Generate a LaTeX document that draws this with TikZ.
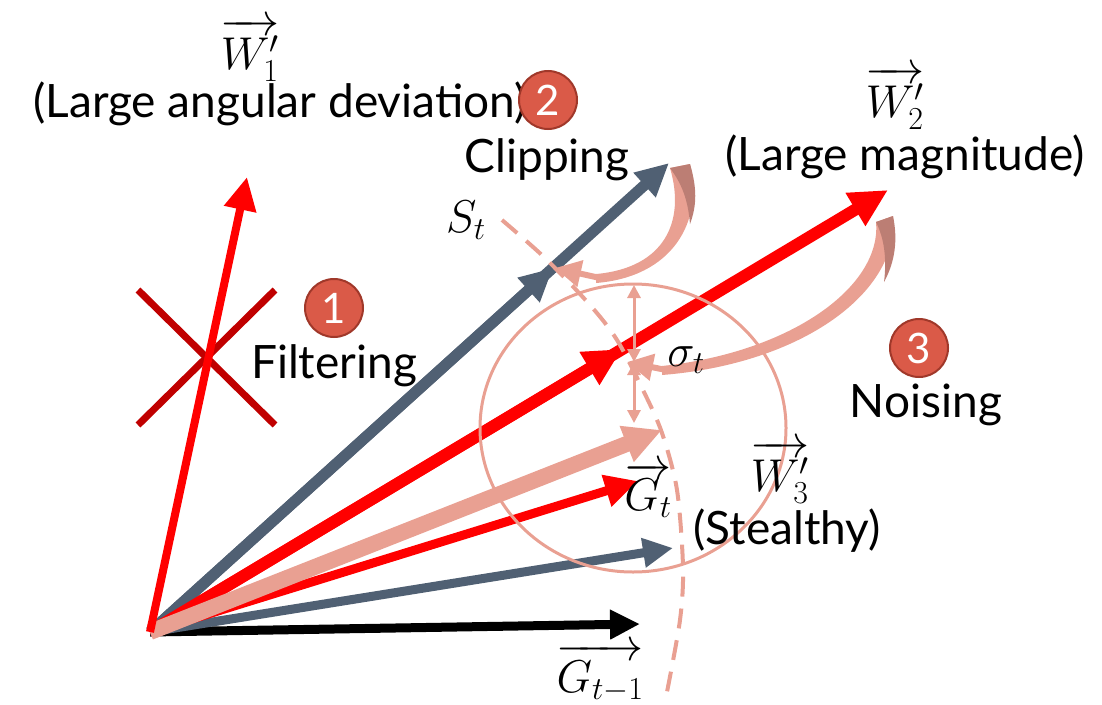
\RequirePackage{fix-cm}
\documentclass[tikz,border=0pt]{standalone}
\usepackage{amsmath}
\usepackage{fontspec}
\setmainfont{Lato}
\usepackage{xcolor}
\usetikzlibrary{positioning,arrows.meta}
\DeclareMathSizes{46}{46}{32}{23}

\definecolor{vred}{RGB}{255,0,0}
\definecolor{slate}{RGB}{80,96,115}
\definecolor{salmon}{RGB}{233,160,146}
\definecolor{salmondark}{RGB}{188,126,116}
\definecolor{badgefill}{RGB}{218,90,72}
\definecolor{badgeedge}{RGB}{160,56,42}
\definecolor{crossred}{RGB}{192,0,0}

\begin{document}
\begin{tikzpicture}[
  x=1pt, y=-1pt,
  lbl/.style={inner sep=0pt, align=center, font=\fontsize{46}{52}\selectfont},
  badge/.style={circle, fill=badgefill, draw=badgeedge, line width=2pt, minimum size=58pt, inner sep=0pt, text=white, font=\fontsize{42}{42}\selectfont},
  headbig/.style={-{Triangle[length=38pt,width=36pt]}},
  headmid/.style={-{Triangle[length=33pt,width=31pt]}},
  headsmall/.style={-{Triangle[length=30pt,width=28pt]}},
  thinboth/.style={{Triangle[length=13pt,width=13pt]}-{Triangle[length=13pt,width=13pt]}, salmon, line width=3pt},
  curvehead/.style={salmon, line width=6pt, -{Triangle[length=26pt,width=26pt]}}
]
  \useasboundingbox (0,0) rectangle (1102,704);

  % end points of the vectors
  \coordinate (O) at (150,632);
  \coordinate (w1) at (247,177);
  \coordinate (w2) at (888,190);
  \coordinate (w2clip) at (622,349);
  \coordinate (wgray) at (669,163);
  \coordinate (wgrayclip) at (553,268);
  \coordinate (gt) at (662,430);
  \coordinate (w3) at (638,481);
  \coordinate (w3gray) at (673,548);
  \coordinate (gprev) at (640,624);

  % filtering cross
  \draw[crossred, line width=7pt] (138,290) -- (275,425);
  \draw[crossred, line width=7pt] (275,290) -- (138,425);

  % vectors
  \draw[headsmall, line width=9pt] (O) -- (gprev);
  \draw[headsmall, slate, line width=9pt] (O) -- (w3gray);
  \draw[headmid, vred, line width=9pt] (O) -- (w3);
  \draw[headmid, slate, line width=11pt] (O) -- (wgray);
  \draw[headmid, slate, line width=11pt] (O) -- (wgrayclip);
  \draw[headbig, vred, line width=12pt] (O) -- (w2);
  \draw[headbig, vred, line width=12pt] (O) -- (w2clip);
  \draw[headbig, salmon, line width=16pt] (O) -- (gt);
  \draw[headmid, vred, line width=8pt] (O) -- (w1);

  % noise ball
  \draw[salmon, line width=3pt] (633,428) ellipse [x radius=153, y radius=144];
  \coordinate (sigtop) at (634,285);
  \coordinate (sigmid) at (634,362);
  \coordinate (sigbot) at (634,423);
  \draw[thinboth] (sigtop) -- (sigmid);
  \draw[thinboth] (sigmid) -- (sigbot);

  % clipping arrow
  \coordinate (clipend) at (555,268);
  \fill[salmon] (690,164) .. controls (704,222) and (672,277) .. (596,283)
    -- (596,274) .. controls (664,268) and (686,222) .. (670,168) -- cycle;
  \fill[salmondark] (670,168) -- (690,164) .. controls (697,188) and (697,205) .. (690,224)
    .. controls (688,200) and (682,184) .. (670,168) -- cycle;
  \draw[curvehead] (600,278) -- (clipend);

  % noising arrow
  \coordinate (noiseend) at (627,362);
  \fill[salmon] (893,216) .. controls (900,292) and (802,364) .. (662,375)
    -- (662,366) .. controls (792,352) and (882,286) .. (876,222) -- cycle;
  \fill[salmondark] (876,222) -- (893,216) .. controls (898,240) and (895,262) .. (884,282)
    .. controls (887,258) and (884,238) .. (876,222) -- cycle;
  \draw[curvehead] (666,370) -- (noiseend);

  % clipping bound S_t
  \draw[salmon, line width=4pt, dash pattern=on 20pt off 12pt] plot[smooth] coordinates
    {(502,220) (545,258) (590,305) (617,340) (643,390) (662,433) (677,490) (683,567) (680,620) (667,692)};

  % labels
  \node[lbl] (lw1) at (250,50) {$\overrightarrow{W_1'}$};
  \node[lbl] (lw1txt) at (280,104) {(Large angular deviation)};
  \node[lbl] (lw2) at (895,98) {$\overrightarrow{W_2'}$};
  \node[lbl] (lw2txt) at (905,157) {(Large magnitude)};
  \node[lbl] (lw3) at (780,472) {$\overrightarrow{W_3'}$};
  \node[lbl] (lw3txt) at (787,531) {(Stealthy)};
  \node[lbl] (lgt) at (648,490) {$\overrightarrow{G_t}$};
  \node[lbl] (lgprev) at (600,673) {$\overrightarrow{G_{t-1}}$};
  \node[lbl] (lst) at (466,220) {$S_t$};
  \node[lbl] (lsig) at (686,360) {$\sigma_t$};

  % steps
  \node[badge] (b1) at (334,308) {1};
  \node[lbl, below=6pt of b1] (filt) {Filtering};
  \node[badge] (b2) at (548,100) {2};
  \node[lbl] (clip) at (547,160) {Clipping};
  \node[badge] (b3) at (919,348) {3};
  \node[lbl] (noise) at (926,405) {Noising};
\end{tikzpicture}
\end{document}
